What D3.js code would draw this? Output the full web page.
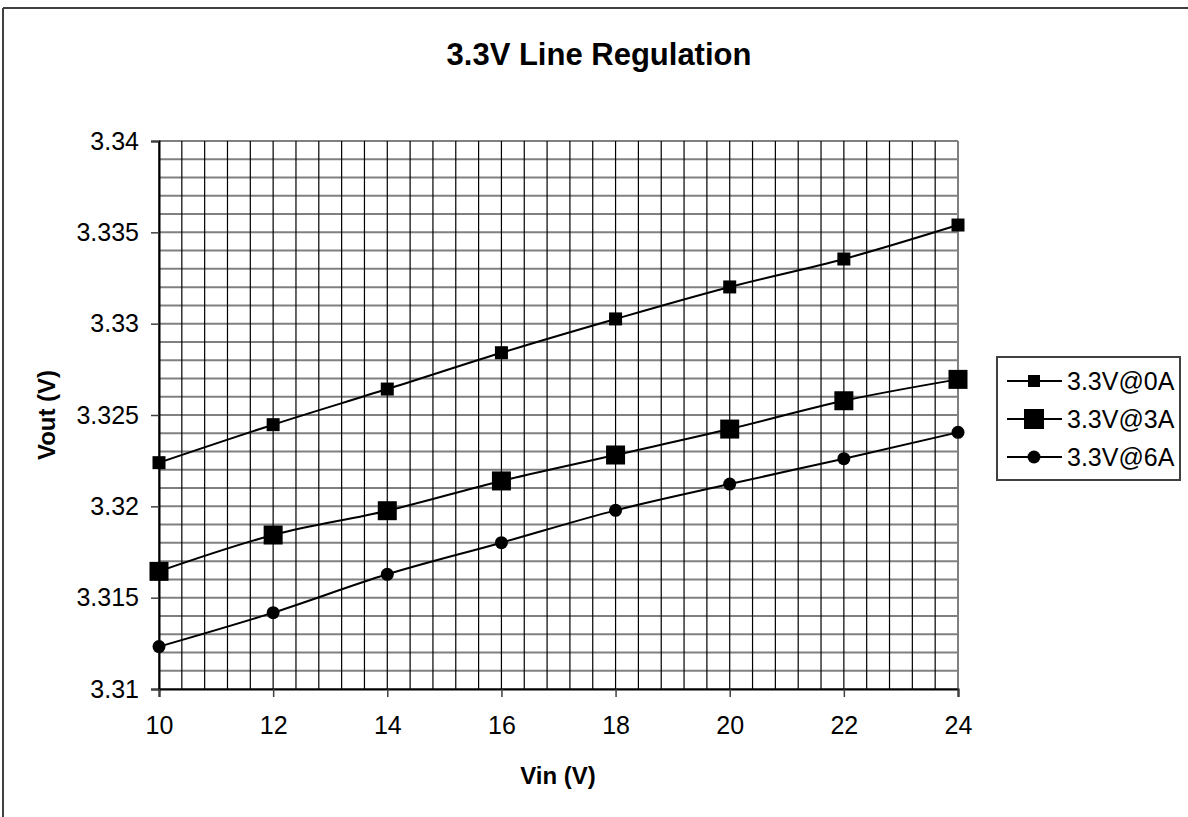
<!DOCTYPE html>
<html>
<head>
<meta charset="utf-8">
<script src="https://cdn.jsdelivr.net/npm/d3@7"></script>
<style>
  body { margin: 0; background: #fff; }
  svg { display: block; font-family: "Liberation Sans", Arial, sans-serif; }
</style>
</head>
<body>
<div id="vis"></div>
<script>
// data
var vin = [10, 12, 14, 16, 18, 20, 22, 24];
var vout0A = [3.32239, 3.32447, 3.32642, 3.32841, 3.33026, 3.33201, 3.33354, 3.33540];
var vout3A = [3.31644, 3.31843, 3.31976, 3.32139, 3.32281, 3.32423, 3.32578, 3.32695];
var vout6A = [3.31232, 3.31418, 3.31628, 3.31801, 3.31978, 3.32122, 3.32261, 3.32405];
var seriesNames = ["3.3V@0A", "3.3V@3A", "3.3V@6A"];
var xTicks = [10, 12, 14, 16, 18, 20, 22, 24];
var yTicks = [3.31, 3.315, 3.32, 3.325, 3.33, 3.335, 3.34];

var width = 1188;
var height = 817;

var plot = { left: 159, top: 141, right: 958, bottom: 689 };

var svg = d3.select("#vis").append("svg")
    .attr("width", width)
    .attr("height", height);

// outer chart border (top + left visible)
svg.append("line")
    .attr("x1", 3).attr("y1", 8).attr("x2", width).attr("y2", 8)
    .style("stroke", "#404040").style("stroke-width", 2);
svg.append("line")
    .attr("x1", 3).attr("y1", 8).attr("x2", 3).attr("y2", height)
    .style("stroke", "#404040").style("stroke-width", 2);

var x = d3.scaleLinear().domain([10, 24]).range([plot.left, plot.right]);
var y = d3.scaleLinear().domain([3.31, 3.34]).range([plot.bottom, plot.top]);

// grid lines - horizontal every 0.001, vertical every 0.4
var hGrid = d3.range(0, 31).map(function(i) { return 3.31 + i * 0.001; });
var vGrid = d3.range(0, 36).map(function(i) { return 10 + i * 0.4; });

svg.append("g").selectAll("line")
    .data(hGrid)
    .enter().append("line")
    .attr("x1", plot.left)
    .attr("x2", plot.right)
    .attr("y1", function(d) { return y(d); })
    .attr("y2", function(d) { return y(d); })
    .style("stroke", "#808080")
    .style("stroke-width", 2);

svg.append("g").selectAll("line")
    .data(vGrid)
    .enter().append("line")
    .attr("x1", function(d) { return x(d); })
    .attr("x2", function(d) { return x(d); })
    .attr("y1", plot.top)
    .attr("y2", plot.bottom)
    .style("stroke", "#000")
    .style("stroke-width", 1.2);

// right border of plot area
svg.append("line")
    .attr("x1", plot.right).attr("x2", plot.right)
    .attr("y1", plot.top).attr("y2", plot.bottom)
    .style("stroke", "#808080").style("stroke-width", 2);

// axes
var yAxis = svg.append("g")
    .attr("transform", "translate(" + plot.left + ",0)")
    .call(d3.axisLeft(y).tickValues(yTicks).tickSize(8).tickPadding(12)
      .tickFormat(function(d) { return d3.format("")(+d.toFixed(3)); }));
var xAxis = svg.append("g")
    .attr("transform", "translate(0," + plot.bottom + ")")
    .call(d3.axisBottom(x).tickValues(xTicks).tickSize(8).tickPadding(12));

[yAxis, xAxis].forEach(function(ax) {
  ax.select(".domain").style("stroke", "#000").style("stroke-width", 2);
  ax.selectAll(".tick line").style("stroke", "#404040").style("stroke-width", 1.5);
  ax.selectAll("text")
      .style("font-size", "25px")
      .style("fill", "#000")
      .style("font-family", "'Liberation Sans', Arial, sans-serif");
});
xAxis.selectAll("text").attr("dy", "1em");

// titles
svg.append("text")
    .attr("x", 599).attr("y", 65)
    .attr("text-anchor", "middle")
    .style("font-size", "31px").style("font-weight", "bold")
    .text("3.3V Line Regulation");

svg.append("text")
    .attr("x", 558).attr("y", 784)
    .attr("text-anchor", "middle")
    .style("font-size", "24px").style("font-weight", "bold")
    .text("Vin (V)");

svg.append("text")
    .attr("transform", "translate(47,415) rotate(-90)")
    .attr("text-anchor", "middle")
    .attr("dy", "0.35em")
    .style("font-size", "24px").style("font-weight", "bold")
    .text("Vout (V)");

// series
var series = [
  { name: seriesNames[0], values: vout0A, shape: "square", size: 13, legendSize: 12 },
  { name: seriesNames[1], values: vout3A, shape: "square", size: 19, legendSize: 20 },
  { name: seriesNames[2], values: vout6A, shape: "circle", size: 13, legendSize: 13 }
];

var line = d3.line()
    .x(function(d) { return x(d[0]); })
    .y(function(d) { return y(d[1]); })
    .curve(d3.curveMonotoneX);

function marker(g, shape, size, cx, cy) {
  if (shape === "square") {
    g.append("rect")
        .attr("x", cx - size / 2).attr("y", cy - size / 2)
        .attr("width", size).attr("height", size)
        .style("fill", "#000");
  } else {
    g.append("circle")
        .attr("cx", cx).attr("cy", cy).attr("r", size / 2)
        .style("fill", "#000");
  }
}

series.forEach(function(s) {
  var pts = vin.map(function(v, i) { return [v, s.values[i]]; });
  var g = svg.append("g");
  g.append("path")
      .attr("d", line(pts))
      .style("fill", "none")
      .style("stroke", "#000")
      .style("stroke-width", 2);
  pts.forEach(function(p) {
    marker(g, s.shape, s.size, x(p[0]), y(p[1]));
  });
});

// legend
var legend = svg.append("g");
legend.append("rect")
    .attr("x", 997).attr("y", 357)
    .attr("width", 183).attr("height", 123)
    .style("fill", "#fff")
    .style("stroke", "#404040")
    .style("stroke-width", 2);

series.forEach(function(s, i) {
  var ly = 381 + i * 38;
  legend.append("line")
      .attr("x1", 1007).attr("x2", 1062)
      .attr("y1", ly).attr("y2", ly)
      .style("stroke", "#000").style("stroke-width", 2);
  marker(legend, s.shape, s.legendSize, 1034, ly);
  legend.append("text")
      .attr("x", 1067).attr("y", ly)
      .attr("dy", "0.35em")
      .style("font-size", "25px")
      .text(s.name);
});
</script>
</body>
</html>
